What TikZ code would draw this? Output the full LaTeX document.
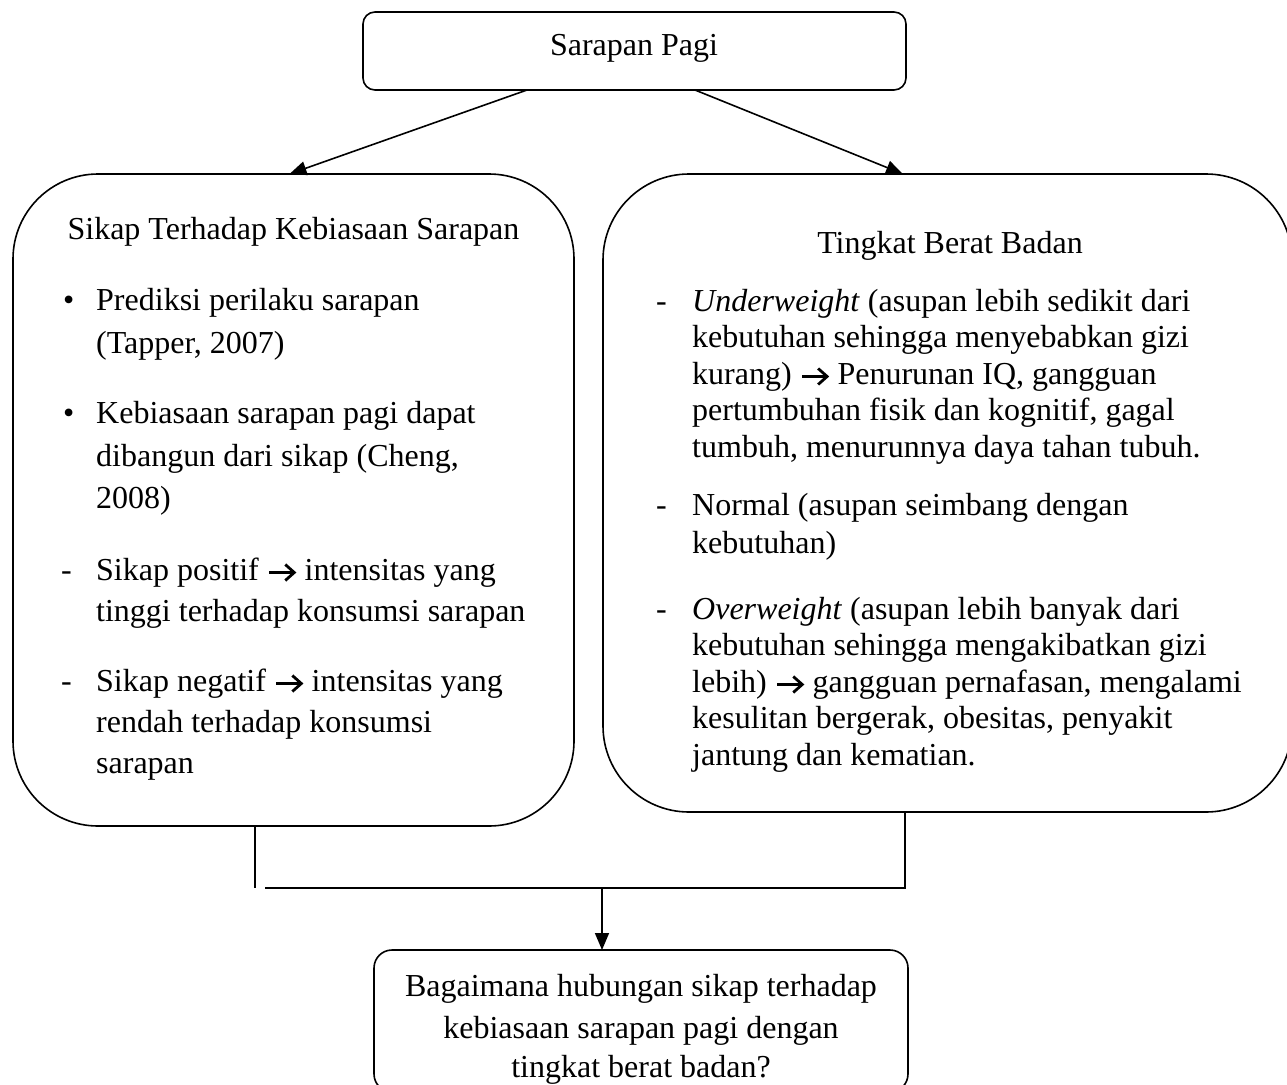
\documentclass[tikz,border=0pt]{standalone}
\usepackage{fontspec}
\setmainfont{Liberation Serif}
\usetikzlibrary{arrows.meta}
\newcommand{\rarr}{\kern1pt\tikz[baseline=-7.5pt]{\draw[line width=2.8pt, line cap=butt] (0pt,0pt) -- (24pt,0pt); \draw[line width=2.8pt, line join=miter, line cap=butt] (16pt,8pt) -- (25pt,0pt) -- (16pt,-8pt);}\kern1pt}
\begin{document}
\begin{tikzpicture}[x=1pt,y=-1pt,
  box/.style={draw, line width=1.6pt, inner sep=0pt, outer sep=0pt},
  body/.style={inner sep=0pt, font=\fontsize{32}{38}\selectfont},
  txt/.style={body, anchor=base west},
  ctr/.style={body, anchor=base},
  conn/.style={line width=1.6pt},
  arr/.style={line width=1.6pt, -{Triangle[length=17pt,width=14pt]}}]
\useasboundingbox (0,0) rectangle (1287,1084);
\clip (0,0) rectangle (1287,1084);

% boxes
\node[box, rounded corners=12pt, minimum width=543pt, minimum height=78pt] (top) at (634.5,51) {};
\node[box, rounded corners=85pt, minimum width=561pt, minimum height=652pt] (left) at (293.5,500) {};
\node[box, rounded corners=86pt, minimum width=689pt, minimum height=638pt] (right) at (947.5,493) {};
\node[box, rounded corners=18pt, minimum width=534pt, minimum height=142pt] (bot) at (641,1021) {};

% top box text
\node[ctr] (t0) at (634,55) {Sarapan Pagi};

% left box text
\node[ctr] (l0) at (293.5,239) {Sikap Terhadap Kebiasaan Sarapan};
\node[txt] (lb1) at (63,310) {•};
\node[txt] (l1) at (96,310) {Prediksi perilaku sarapan};
\node[txt] (l2) at (96,353) {(Tapper, 2007)};
\node[txt] (lb2) at (63,423) {•};
\node[txt] (l3) at (96,423) {Kebiasaan sarapan pagi dapat};
\node[txt] (l4) at (96,466) {dibangun dari sikap (Cheng,};
\node[txt] (l5) at (96,508) {2008)};
\node[txt] (ld1) at (61,580) {-};
\node[txt] (l6) at (96,580) {Sikap positif \rarr{} intensitas yang};
\node[txt] (l7) at (96,621) {tinggi terhadap konsumsi sarapan};
\node[txt] (ld2) at (61,691) {-};
\node[txt] (l8) at (96,691) {Sikap negatif \rarr{} intensitas yang};
\node[txt] (l9) at (96,732) {rendah terhadap konsumsi};
\node[txt] (l10) at (96,773) {sarapan};

% right box text
\node[ctr] (r0) at (950,253) {Tingkat Berat Badan};
\node[txt] (rd1) at (656,311) {-};
\node[txt] (r1) at (692,311) {\textit{Underweight} (asupan lebih sedikit dari};
\node[txt] (r2) at (692,347.5) {kebutuhan sehingga menyebabkan gizi};
\node[txt] (r3) at (692,384) {kurang) \rarr{} Penurunan IQ, gangguan};
\node[txt] (r4) at (692,420.5) {pertumbuhan fisik dan kognitif, gagal};
\node[txt] (r5) at (692,457) {tumbuh, menurunnya daya tahan tubuh.};
\node[txt] (rd2) at (656,515) {-};
\node[txt] (r6) at (692,515) {Normal (asupan seimbang dengan};
\node[txt] (r7) at (692,553) {kebutuhan)};
\node[txt] (rd3) at (656,619) {-};
\node[txt] (r8) at (692,619) {\textit{Overweight} (asupan lebih banyak dari};
\node[txt] (r9) at (692,655.5) {kebutuhan sehingga mengakibatkan gizi};
\node[txt] (r10) at (692,692) {lebih) \rarr{} gangguan pernafasan, mengalami};
\node[txt] (r11) at (692,728.5) {kesulitan bergerak, obesitas, penyakit};
\node[txt] (r12) at (692,765) {jantung dan kematian.};

% bottom box text
\node[ctr] (b1) at (641,996) {Bagaimana hubungan sikap terhadap};
\node[ctr] (b2) at (641,1038) {kebiasaan sarapan pagi dengan};
\node[ctr] (b3) at (641,1077) {tingkat berat badan?};

% connectors
\draw[arr] ([xshift=-107.5pt]top.south) -- ([xshift=-4pt]left.north);
\draw[arr] ([xshift=60.5pt]top.south) -- ([xshift=-44.5pt]right.north);

\coordinate (jl) at (255,888);
\coordinate (jhl) at (265,888);
\coordinate (jr) at (905,888);
\coordinate (jm) at (602,888);
\draw[conn] ([xshift=-38.5pt]left.south) -- (jl);
\draw[conn] (jhl) -- (jr) -- ([xshift=-42.5pt]right.south);
\draw[arr] (jm) -- (jm |- bot.north);
\end{tikzpicture}
\end{document}
